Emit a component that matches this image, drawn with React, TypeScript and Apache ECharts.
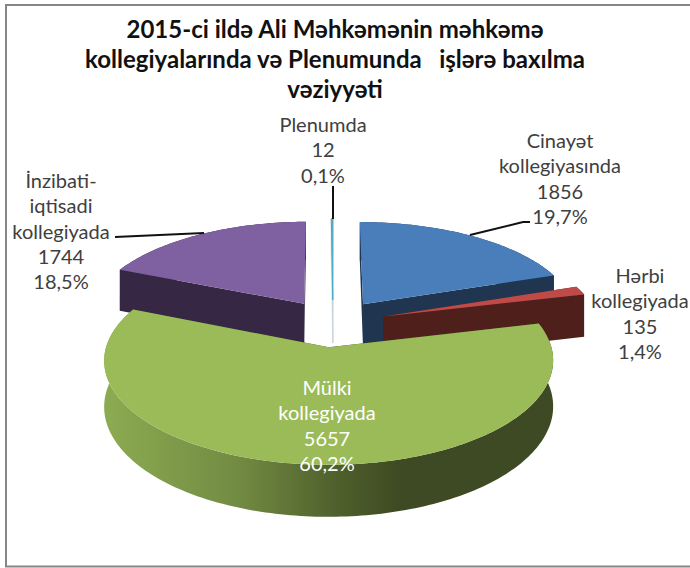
import React, { useEffect, useRef } from "react";
import * as echarts from "echarts";

const titleLines = [
  "2015-ci ildə Ali Məhkəmənin məhkəmə",
  "kollegiyalarında və Plenumunda   işlərə baxılma",
  "vəziyyəti",
];
const names = ["Cinayət kollegiyasında", "Hərbi kollegiyada", "Mülki kollegiyada", "İnzibati-iqtisadi kollegiyada", "Plenumda"];
const values = [1856, 135, 5657, 1744, 12];
const topColors = ["#4a7ebb", "#be4b48", "#9bbb59", "#7f60a0", "#4bacc6"];
const sideColors = ["#1f3550", "#4f1f1c", "#566a30", "#362845", "#c9d3d8"];
const drawOrder = [4, 3, 0, 1, 2];
const labelLines = [
  ["Cinayət", "kollegiyasında", "1856", "19,7%"],
  ["Hərbi", "kollegiyada", "135", "1,4%"],
  ["Mülki", "kollegiyada", "5657", "60,2%"],
  ["İnzibati-", "iqtisadi", "kollegiyada", "1744", "18,5%"],
  ["Plenumda", "12", "0,1%"],
];
const labelCenters = [[560, 140], [640, 275], [327, 387], [61, 180], [323, 124]];

const CX = 333, CY = 323, R = 216, K = 0.447, P = 0.123, EXPLODE = 0.245, DEPTH = 44;

function project(X: number, Y: number, z: number): number[] {
  const w = 1 / (1 - P * Y);
  return [CX + R * X * w, CY + R * K * Y * w + z * DEPTH * w];
}

function renderSlice(params: any, api: any) {
  const i = params.dataIndex;
  const total = values.reduce((a, b) => a + b, 0);
  const order = drawOrder[i];
  const before = values.slice(0, order).reduce((a, b) => a + b, 0);
  const a0 = (before / total) * Math.PI * 2;
  const a1 = ((before + api.value(0)) / total) * Math.PI * 2;
  const mid = (a0 + a1) / 2;
  const ox = EXPLODE * Math.sin(mid), oy = -EXPLODE * Math.cos(mid);
  const arc = (z: number) => {
    const pts: number[][] = [];
    const n = Math.max(2, Math.ceil((a1 - a0) / 0.02));
    for (let k = 0; k <= n; k++) {
      const a = a0 + ((a1 - a0) * k) / n;
      pts.push(project(ox + Math.sin(a), oy - Math.cos(a), z));
    }
    return pts;
  };
  const topArc = arc(0), botArc = arc(1);
  const apexTop = project(ox, oy, 0), apexBot = project(ox, oy, 1);
  const rimFill: any =
    order === 2
      ? new echarts.graphic.LinearGradient(105, 0, 400, 0, [
          { offset: 0, color: "#8cab51" },
          { offset: 0.45, color: "#728b42" },
          { offset: 0.8, color: "#4d5e2b" },
          { offset: 1, color: "#3e4a23" },
        ], true)
      : sideColors[order];
  const side = sideColors[order];
  const thin = order === 4 ? { stroke: side, lineWidth: 0.8 } : {};
  const line = order === 4 ? { stroke: topColors[4], lineWidth: 1 } : {};
  const children: any[] = [
    { type: "polygon", shape: { points: [...topArc, ...botArc.slice().reverse()] }, style: { fill: rimFill, ...thin } },
    { type: "polygon", shape: { points: [apexTop, topArc[0], botArc[0], apexBot] }, style: { fill: order === 2 ? "#3e4a23" : side, ...thin } },
    { type: "polygon", shape: { points: [apexTop, topArc[topArc.length - 1], botArc[botArc.length - 1], apexBot] }, style: { fill: order === 2 ? "#3e4a23" : side, ...thin } },
    { type: "polygon", shape: { points: [apexTop, ...topArc] }, style: { fill: topColors[order], ...line } },
  ];
  return { type: "group", children };
}

export default function App() {
  const ref = useRef<HTMLDivElement>(null);
  useEffect(() => {
    document.body.style.margin = "0";
    const chart = echarts.init(ref.current!, undefined, { renderer: "svg" });
    const font = "Lato, Carlito, sans-serif";
    const labels: any[] = [];
    labelLines.forEach((lines, i) => {
      lines.forEach((t, j) => {
        labels.push({
          type: "text", z: 20, x: labelCenters[i][0], y: labelCenters[i][1] + j * 25.3,
          style: { text: t, fill: i === 2 ? "#ffffff" : "#404040", font: `20px ${font}`, textAlign: "center", textVerticalAlign: "middle" },
        });
      });
    });
    titleLines.forEach((t, j) => {
      labels.push({
        type: "text", z: 20, x: 335, y: 28 + j * 30,
        style: { text: t, fill: "#111111", font: `bold 24px ${font}`, textAlign: "center", textVerticalAlign: "middle" },
      });
    });
    const leader = (points: number[][]) => ({ type: "polyline", z: 15, shape: { points }, style: { stroke: "#111111", lineWidth: 2, fill: "none" } });
    chart.setOption({
      animation: false,
      backgroundColor: "#ffffff",
      graphic: [
        { type: "rect", z: 0, shape: { x: 6, y: 5, width: 720, height: 561.5 }, style: { fill: "#ffffff", stroke: "#868686", lineWidth: 2 } },
        leader([[333, 186], [333, 219]]),
        leader([[470, 235], [523, 222], [530, 222]]),
        leader([[115, 237], [204, 233]]),
        ...labels,
      ],
      series: [{
        type: "custom",
        coordinateSystem: "none",
        silent: true,
        z: 10,
        renderItem: renderSlice,
        data: drawOrder.map((o) => ({ name: names[o], value: [values[o]] })),
      }],
    });
    return () => chart.dispose();
  }, []);
  return <div ref={ref} style={{ width: 690, height: 568 }} />;
}
